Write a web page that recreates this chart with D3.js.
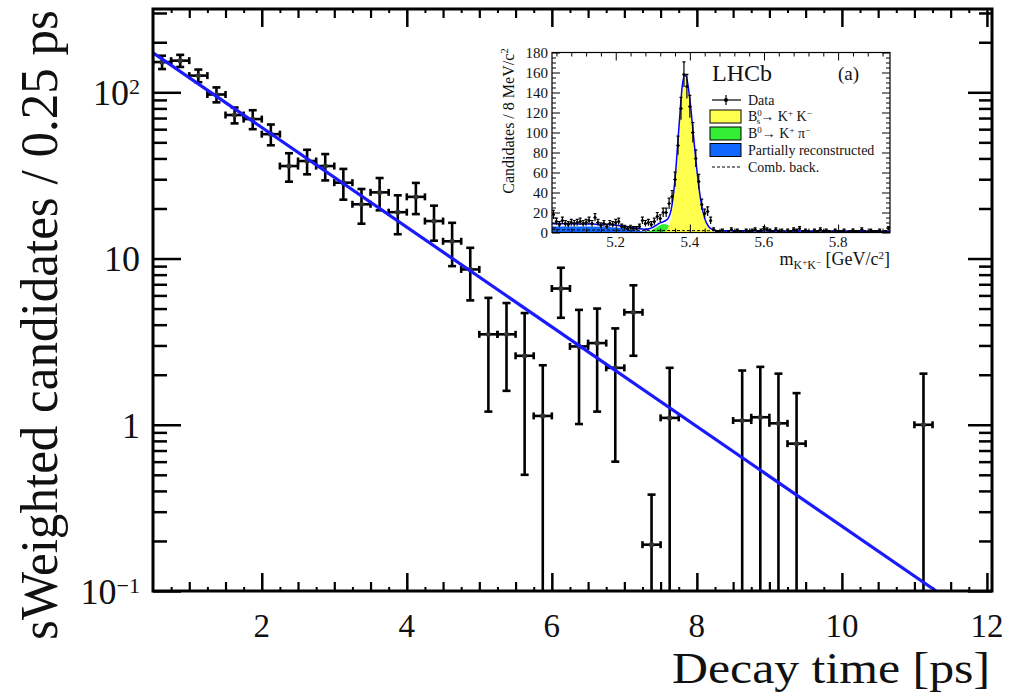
<!DOCTYPE html>
<html>
<head>
<meta charset="utf-8">
<script src="https://cdn.jsdelivr.net/npm/d3@7"></script>
<style>
  body { margin: 0; background: #fff; }
  svg { display: block; }
  text { font-family: "Liberation Serif", "DejaVu Serif", serif; fill: #111; }
</style>
</head>
<body>
<div id="chart"></div>
<script>
// 1: DATA
// main plot: sWeighted decay-time histogram (0.25 ps bins)
const binTime  = [0.625, 0.875, 1.125, 1.375, 1.625, 1.875, 2.125, 2.375, 2.625, 2.875,
                  3.125, 3.375, 3.625, 3.875, 4.125, 4.375, 4.625, 4.875, 5.125, 5.375,
                  5.625, 5.875, 6.125, 6.375, 6.625, 6.875, 7.125, 7.375, 7.625, 8.625,
                  8.875, 9.125, 9.375, 11.125];
const binYield = [152, 155, 126, 97, 73, 69, 56, 36, 38.6, 36,
                  28.6, 21.2, 25, 19, 23.5, 16.8, 12.7, 8.6, 3.5, 3.5,
                  2.6, 1.13, 6.6, 2.96, 3.1, 2.2, 4.75, 0.19, 1.1, 1.06,
                  1.11, 1.02, 0.77, 1.0];
const binError = [14, 13, 11, 10, 8, 9, 8, 7, 6.5, 6.5,
                  6, 5, 5.5, 5, 5, 4, 3.7, 3, 2.3, 1.9,
                  2.1, 1.15, 2.2, 1.95, 1.9, 1.6, 2.15, 0.19, 1.1, 1.06,
                  1.12, 1.01, 0.78, 1.03];
const binHalfWidth = 0.125;

// exponential fit, straight on the log axis: end points
const fitTime  = [0.5, 11.3];
const fitValue = [173, 0.1];

// main axes
const xDomain = [0.5, 12.07];
const yDomain = [0.1, 317];
const xMajorTicks = [2, 4, 6, 8, 10, 12];
const yMajorTicks = [0.1, 1, 10, 100];
const yTickBase = ["10", "1", "10", "10"];
const yTickExp  = ["\u22121", "", "", "2"];

// inset: K+K- invariant mass, 8 MeV bins
const massStart = 5.028;
const massStep = 0.008;
const massCounts = [
  18, 11, 8, 12, 9, 8, 10, 9, 10, 11,
  9, 10, 12, 9, 15, 10, 7, 9, 6, 9,
  8, 10, 11, 6, 5, 4, 5, 4, 4, 6,
  12, 9, 10, 8, 11, 16, 14, 20, 20, 29,
  36, 53, 87, 124, 158, 146, 126, 100, 74, 51,
  28, 19, 21, 12, 3, 1,
  1, 2, 0, 1, 3, 1, 2, 1, 0, 2,
  1, 2, 3, 1, 2, 4, 3, 2, 1, 3,
  1, 2, 0, 2, 1, 3, 2, 4, 1, 2,
  1, 0, 2, 1, 3, 1, 2, 1, 0, 2,
  1, 1, 2, 0, 1, 2, 1, 1, 3, 1,
  0, 2, 1, 1, 2, 0, 1, 4
];

// inset fit components
const curveMass = [5.028, 5.06, 5.10, 5.14, 5.18, 5.20, 5.22, 5.24, 5.26, 5.27,
                   5.28, 5.29, 5.30, 5.31, 5.32, 5.33, 5.34, 5.35, 5.36, 5.37,
                   5.38, 5.386, 5.39, 5.40, 5.41, 5.42, 5.43, 5.44, 5.45, 5.46,
                   5.47, 5.48, 5.50, 5.55, 5.60, 5.70, 5.80, 5.94];
const partReco = [6.0, 6.0, 6.0, 5.9, 5.5, 5.0, 4.2, 3.0, 1.8, 1.3,
                  0.8, 0.5, 0.2, 0.1, 0, 0, 0, 0, 0, 0,
                  0, 0, 0, 0, 0, 0, 0, 0, 0, 0,
                  0, 0, 0, 0, 0, 0, 0, 0];
const b0Kpi    = [0, 0, 0, 0, 0, 0, 0, 0, 0, 0.1,
                  0.4, 1.2, 2.8, 5.2, 7.5, 8.5, 7.5, 5.2, 2.8, 1.2,
                  0.4, 0.2, 0.1, 0, 0, 0, 0, 0, 0, 0,
                  0, 0, 0, 0, 0, 0, 0, 0];
const bsKK     = [0, 0, 0, 0, 0, 0, 0, 0, 0, 0,
                  0, 0, 0, 0, 0, 0.5, 4, 16.5, 48.6, 99.5,
                  145.6, 155, 154, 131, 94, 57, 29, 12.3, 4.4, 1.3,
                  0.3, 0, 0, 0, 0, 0, 0, 0];
const combBack = [2.8, 2.7, 2.6, 2.5, 2.4, 2.35, 2.3, 2.25, 2.2, 2.2,
                  2.15, 2.15, 2.1, 2.1, 2.1, 2.05, 2.05, 2.0, 2.0, 2.0,
                  1.95, 1.95, 1.95, 1.95, 1.9, 1.9, 1.9, 1.85, 1.85, 1.85,
                  1.8, 1.8, 1.8, 1.7, 1.6, 1.5, 1.4, 1.3];

const insetXDomain = [5.028, 5.94];
const insetYDomain = [0, 180];
const insetXTicks = [5.2, 5.4, 5.6, 5.8];
const insetYTicks = [0, 20, 40, 60, 80, 100, 120, 140, 160, 180];

// 2: LAYOUT
const frame = { left: 153, right: 992, top: 9, bottom: 591 };
const inset = { left: 552, right: 890, top: 52.5, bottom: 232.5 };

const svg = d3.select("#chart").append("svg")
    .attr("width", 1017)
    .attr("height", 693);

const defs = svg.append("defs");
defs.append("clipPath").attr("id", "mainClip").append("rect")
    .attr("x", frame.left).attr("y", frame.top)
    .attr("width", frame.right - frame.left).attr("height", frame.bottom - frame.top);
defs.append("clipPath").attr("id", "insetClip").append("rect")
    .attr("x", inset.left).attr("y", inset.top)
    .attr("width", inset.right - inset.left).attr("height", inset.bottom - inset.top);

// 3: SCALES
const x = d3.scaleLinear().domain(xDomain).range([frame.left, frame.right]);
const y = d3.scaleLog().domain(yDomain).range([frame.bottom, frame.top]);
const xI = d3.scaleLinear().domain(insetXDomain).range([inset.left, inset.right]);
const yI = d3.scaleLinear().domain(insetYDomain).range([inset.bottom, inset.top]);

// tick helper: inward ticks, no domain path
function drawTicks(axisFn, scale, values, size, width, tx, ty) {
    svg.append("g")
        .attr("transform", `translate(${tx},${ty})`)
        .call(axisFn(scale).tickValues(values).tickSize(size).tickFormat(""))
        .call(g => g.select(".domain").remove())
        .call(g => g.selectAll("line").attr("stroke", "#000").attr("stroke-width", width));
}

// 4: MAIN AXES
const xMedium = d3.range(1, 12.01, 0.5).filter(v => !xMajorTicks.includes(v));
const xShort = d3.range(0.75, 12, 0.5);
drawTicks(d3.axisBottom, x, xMajorTicks, -18, 2.5, 0, frame.bottom);
drawTicks(d3.axisBottom, x, xMedium, -9, 2.2, 0, frame.bottom);
drawTicks(d3.axisBottom, x, xShort, -4, 2, 0, frame.bottom);
drawTicks(d3.axisTop, x, xMajorTicks, -18, 2.5, 0, frame.top);
drawTicks(d3.axisTop, x, xMedium, -9, 2.2, 0, frame.top);
drawTicks(d3.axisTop, x, xShort, -4, 2, 0, frame.top);

const yMinor = y.ticks().filter(v => !yMajorTicks.includes(v) && v <= yDomain[1]);
drawTicks(d3.axisLeft, y, yMajorTicks, -28, 2.5, frame.left, 0);
drawTicks(d3.axisLeft, y, yMinor, -14, 2.5, frame.left, 0);
drawTicks(d3.axisRight, y, yMajorTicks, -24, 2.5, frame.right, 0);
drawTicks(d3.axisRight, y, yMinor, -13, 2.5, frame.right, 0);

// tick labels
svg.append("g").selectAll("text")
    .data(xMajorTicks)
    .join("text")
    .attr("x", d => x(d))
    .attr("y", 637)
    .attr("text-anchor", "middle")
    .style("font-size", "33px")
    .text(d => d);

const yLab = svg.append("g").selectAll("text")
    .data(yMajorTicks)
    .join("text")
    .attr("x", 140)
    .attr("y", d => y(d))
    .attr("dy", "0.36em")
    .attr("text-anchor", "end")
    .style("font-size", "36px");
yLab.append("tspan").text((d, i) => yTickBase[i]);
yLab.append("tspan")
    .attr("dy", "-0.5em")
    .style("font-size", "22px")
    .text((d, i) => yTickExp[i]);

// axis titles
svg.append("text")
    .attr("x", 990)
    .attr("y", 683)
    .attr("text-anchor", "end")
    .attr("textLength", 318)
    .attr("lengthAdjust", "spacingAndGlyphs")
    .style("font-size", "43.5px")
    .text("Decay time [ps]");

svg.append("text")
    .attr("transform", "translate(57,325) rotate(-90)")
    .attr("text-anchor", "middle")
    .attr("textLength", 630)
    .attr("lengthAdjust", "spacingAndGlyphs")
    .style("font-size", "52px")
    .text("sWeighted candidates / 0.25 ps");

// 5: MAIN DATA + FIT
const pts = binTime.map((t, i) => ({ t, v: binYield[i], e: binError[i] }));
const gMain = svg.append("g").attr("clip-path", "url(#mainClip)");

pts.forEach(d => {
    const g = gMain.append("g").attr("stroke", "#000").attr("stroke-width", 2.6);
    const yc = y(d.v);
    const yt = y(d.v + d.e);
    const lo = d.v - d.e;
    const yb = lo > yDomain[0] ? y(lo) : frame.bottom + 5;
    const x0 = x(d.t - binHalfWidth), x1 = x(d.t + binHalfWidth), xc = x(d.t);
    g.append("line").attr("x1", x0).attr("x2", x1).attr("y1", yc).attr("y2", yc);
    g.append("line").attr("x1", xc).attr("x2", xc).attr("y1", yt).attr("y2", yb);
    g.append("line").attr("x1", xc - 4).attr("x2", xc + 4).attr("y1", yt).attr("y2", yt);
    if (lo > yDomain[0]) {
        g.append("line").attr("x1", xc - 4).attr("x2", xc + 4).attr("y1", yb).attr("y2", yb);
    }
    g.append("line").attr("x1", x0).attr("x2", x0).attr("y1", yc - 3.5).attr("y2", yc + 3.5);
    g.append("line").attr("x1", x1).attr("x2", x1).attr("y1", yc - 3.5).attr("y2", yc + 3.5);
    gMain.append("circle").attr("cx", xc).attr("cy", yc).attr("r", 2.6).attr("fill", "#333");
});

const fitPts = fitTime.map((t, i) => ({ t, v: fitValue[i] }));
gMain.append("path")
    .datum(fitPts)
    .attr("d", d3.line().x(d => x(d.t)).y(d => y(d.v)))
    .attr("fill", "none")
    .attr("stroke", "#1a1aff")
    .attr("stroke-width", 3.2);

// frame
svg.append("rect")
    .attr("x", frame.left).attr("y", frame.top)
    .attr("width", frame.right - frame.left).attr("height", frame.bottom - frame.top)
    .attr("fill", "none").attr("stroke", "#000").attr("stroke-width", 3);

// 6: INSET
const comp = curveMass.map((m, i) => ({
    m, part: partReco[i], b0: b0Kpi[i], bs: bsKK[i], comb: combBack[i],
    total: partReco[i] + b0Kpi[i] + bsKK[i] + combBack[i]
}));
const gIn = svg.append("g").attr("clip-path", "url(#insetClip)");
const area = key => d3.area().curve(d3.curveMonotoneX)
    .x(d => xI(d.m)).y0(yI(0)).y1(d => yI(d[key]));
const line = key => d3.line().curve(d3.curveMonotoneX)
    .x(d => xI(d.m)).y(d => yI(d[key]));

const colPart = "#1166ff", colB0 = "#33ee33", colBs = "#ffff4d";
gIn.append("path").datum(comp).attr("d", area("part")).attr("fill", colPart);
gIn.append("path").datum(comp).attr("d", area("b0")).attr("fill", colB0);
gIn.append("path").datum(comp).attr("d", area("bs")).attr("fill", colBs);
gIn.append("path").datum(comp).attr("d", line("comb"))
    .attr("fill", "none").attr("stroke", "#000").attr("stroke-width", 1)
    .attr("stroke-dasharray", "3,2");
gIn.append("path").datum(comp).attr("d", line("total"))
    .attr("fill", "none").attr("stroke", "#0000ff").attr("stroke-width", 1.5);

const massPts = massCounts.map((n, i) => ({ m: massStart + massStep * (i + 0.5), n }));
const gPts = gIn.append("g").attr("stroke", "#000").attr("stroke-width", 1.2);
massPts.forEach(d => {
    const xc = xI(d.m), yc = yI(d.n), s = Math.sqrt(d.n);
    gPts.append("line").attr("x1", xI(d.m - massStep / 2)).attr("x2", xI(d.m + massStep / 2))
        .attr("y1", yc).attr("y2", yc);
    if (s > 0) {
        gPts.append("line").attr("x1", xc).attr("x2", xc).attr("y1", yI(d.n + s)).attr("y2", yI(d.n - s));
        gPts.append("line").attr("x1", xc - 1.5).attr("x2", xc + 1.5).attr("y1", yI(d.n + s)).attr("y2", yI(d.n + s));
    }
    gIn.append("circle").attr("cx", xc).attr("cy", yc).attr("r", 1.5).attr("fill", "#000");
});

// inset ticks
const insetXMinor = d3.range(5.04, 5.94, 0.04).filter(v => !insetXTicks.some(t => Math.abs(t - v) < 1e-6));
const insetYMinor = d3.range(5, 180, 5).filter(v => v % 20 !== 0);
drawTicks(d3.axisBottom, xI, insetXTicks, -8, 1, 0, inset.bottom);
drawTicks(d3.axisBottom, xI, insetXMinor, -4, 1, 0, inset.bottom);
drawTicks(d3.axisTop, xI, insetXTicks, -8, 1, 0, inset.top);
drawTicks(d3.axisTop, xI, insetXMinor, -4, 1, 0, inset.top);
drawTicks(d3.axisLeft, yI, insetYTicks, -8, 1, inset.left, 0);
drawTicks(d3.axisLeft, yI, insetYMinor, -4, 1, inset.left, 0);
drawTicks(d3.axisRight, yI, insetYTicks, -8, 1, inset.right, 0);
drawTicks(d3.axisRight, yI, insetYMinor, -4, 1, inset.right, 0);

svg.append("rect")
    .attr("x", inset.left).attr("y", inset.top)
    .attr("width", inset.right - inset.left).attr("height", inset.bottom - inset.top)
    .attr("fill", "none").attr("stroke", "#000").attr("stroke-width", 1.2);

svg.append("g").selectAll("text")
    .data(insetXTicks)
    .join("text")
    .attr("x", d => xI(d))
    .attr("y", 247)
    .attr("text-anchor", "middle")
    .style("font-size", "15px")
    .text(d => d.toFixed(1));

svg.append("g").selectAll("text")
    .data(insetYTicks)
    .join("text")
    .attr("x", 548)
    .attr("y", d => yI(d))
    .attr("dy", "0.35em")
    .attr("text-anchor", "end")
    .style("font-size", "15px")
    .text(d => d);

// inset axis titles
const ixt = svg.append("text")
    .attr("x", 890).attr("y", 265)
    .attr("text-anchor", "end")
    .style("font-size", "18px");
ixt.append("tspan").text("m");
ixt.append("tspan").attr("dy", 4).style("font-size", "12px").text("K");
ixt.append("tspan").attr("dy", -4).style("font-size", "9px").text("+");
ixt.append("tspan").attr("dy", 4).style("font-size", "12px").text("K");
ixt.append("tspan").attr("dy", -4).style("font-size", "9px").text("\u2212");
ixt.append("tspan").text("  [GeV/c");
ixt.append("tspan").attr("dy", -6).style("font-size", "11px").text("2");
ixt.append("tspan").attr("dy", 6).text("]");

const iyt = svg.append("text")
    .attr("transform", "translate(514,121) rotate(-90)")
    .attr("text-anchor", "middle")
    .style("font-size", "16px");
iyt.append("tspan").text("Candidates / 8 MeV/c");
iyt.append("tspan").attr("dy", -6).style("font-size", "11px").text("2");

svg.append("text").attr("x", 712).attr("y", 81).style("font-size", "24px").text("LHCb");
svg.append("text").attr("x", 838).attr("y", 80).style("font-size", "19px").text("(a)");

// 7: LEGEND
const lx = 710, lw = 31, tx = 748;
const leg = svg.append("g");
leg.append("line").attr("x1", lx + 2).attr("x2", lx + lw).attr("y1", 100).attr("y2", 100)
    .attr("stroke", "#000").attr("stroke-width", 1.2);
leg.append("line").attr("x1", lx + 16).attr("x2", lx + 16).attr("y1", 95).attr("y2", 105)
    .attr("stroke", "#000").attr("stroke-width", 1.2);
leg.append("circle").attr("cx", lx + 16).attr("cy", 100).attr("r", 2).attr("fill", "#000");

[[colBs, 110], [colB0, 127], [colPart, 143.5]].forEach(([c, yy]) => {
    leg.append("rect").attr("x", lx).attr("y", yy).attr("width", lw).attr("height", 13)
        .attr("fill", c).attr("stroke", "#000").attr("stroke-width", 1);
});
leg.append("line").attr("x1", lx + 2).attr("x2", lx + lw).attr("y1", 167).attr("y2", 167)
    .attr("stroke", "#000").attr("stroke-width", 1).attr("stroke-dasharray", "3,2");

const lt = (yy) => leg.append("text").attr("x", tx).attr("y", yy).style("font-size", "14px");
lt(105).text("Data");
const t1 = lt(121);
t1.append("tspan").text("B");
t1.append("tspan").attr("dy", -5).style("font-size", "9px").text("0");
t1.append("tspan").attr("dx", -5).attr("dy", 8).style("font-size", "9px").text("s");
t1.append("tspan").attr("dy", -3).text("\u2192 K");
t1.append("tspan").attr("dy", -5).style("font-size", "9px").text("+");
t1.append("tspan").attr("dy", 5).text(" K");
t1.append("tspan").attr("dy", -5).style("font-size", "9px").text("\u2212");
const t2 = lt(138);
t2.append("tspan").text("B");
t2.append("tspan").attr("dy", -5).style("font-size", "9px").text("0");
t2.append("tspan").attr("dy", 5).text("\u2192 K");
t2.append("tspan").attr("dy", -5).style("font-size", "9px").text("+");
t2.append("tspan").attr("dy", 5).text(" \u03c0");
t2.append("tspan").attr("dy", -5).style("font-size", "9px").text("\u2212");
lt(155).text("Partially reconstructed");
lt(172).text("Comb. back.");
</script>
</body>
</html>
